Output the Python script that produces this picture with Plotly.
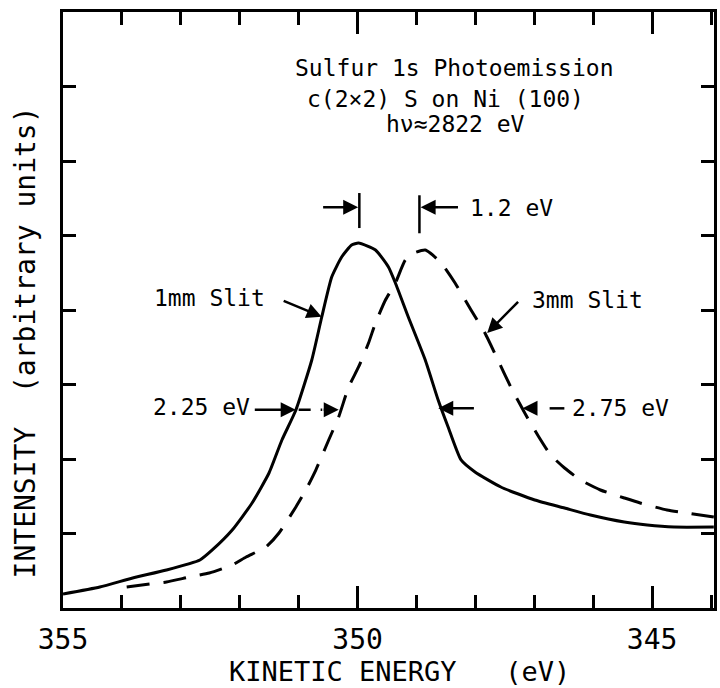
import plotly.graph_objects as go

# ---- data ----
slit1_energy = [355.0, 354.375, 353.818, 353.243, 352.676, 352.466, 352.128, 351.791, 351.503, 351.284,
                351.047, 350.777, 350.608, 350.439, 350.270, 350.101, 349.983, 349.696, 349.476, 349.358,
                349.139, 348.851, 348.632, 348.463, 348.243, 348.007, 347.568, 346.993, 346.486, 346.047,
                345.473, 345.084, 344.628, 343.953]
slit1_intensity = [0.188, 0.282, 0.403, 0.510, 0.644, 0.779, 1.047, 1.409, 1.812, 2.255,
                   2.658, 3.329, 3.906, 4.443, 4.711, 4.872, 4.899, 4.805, 4.577, 4.362,
                   3.906, 3.329, 2.792, 2.430, 1.987, 1.826, 1.624, 1.450, 1.342, 1.248,
                   1.154, 1.114, 1.087, 1.087]

slit3_energy = [353.919, 353.530, 353.243, 352.855, 352.517, 352.128, 351.892, 351.554, 351.334, 351.047,
                350.878, 350.709, 350.490, 350.321, 350.152, 349.983, 349.814, 349.696, 349.527, 349.358,
                349.189, 349.020, 348.851, 348.767, 348.581, 348.345, 348.074, 347.838, 347.618, 347.399,
                347.162, 346.943, 346.723, 346.486, 346.216, 345.878, 345.473, 345.203, 344.747, 344.409,
                343.953]
slit3_intensity = [0.282, 0.322, 0.349, 0.416, 0.470, 0.577, 0.685, 0.819, 1.007, 1.356,
                   1.584, 1.852, 2.255, 2.564, 2.966, 3.235, 3.557, 3.826, 4.134, 4.362,
                   4.671, 4.772, 4.805, 4.765, 4.631, 4.362, 4.000, 3.691, 3.329, 2.966,
                   2.617, 2.322, 2.054, 1.879, 1.718, 1.584, 1.477, 1.409, 1.315, 1.275,
                   1.221]

x_tick_vals = [355, 350, 345]
x_tick_text = ["355", "350", "345"]

FONT = "DejaVu Sans Mono"
BLACK = "black"

fig = go.Figure()
fig.add_trace(go.Scatter(x=slit1_energy, y=slit1_intensity, mode="lines",
                         line=dict(color=BLACK, width=3, shape="spline", smoothing=0.5),
                         showlegend=False, hoverinfo="skip"))
fig.add_trace(go.Scatter(x=slit3_energy, y=slit3_intensity, mode="lines",
                         line=dict(color=BLACK, width=3, dash="23px,14px", shape="spline", smoothing=0.5),
                         showlegend=False, hoverinfo="skip"))

# peak separation markers
for xv, y0, y1 in [(349.97, 5.10, 5.57), (348.95, 5.03, 5.54)]:
    fig.add_shape(type="line", x0=xv, x1=xv, y0=y0, y1=y1, xref="x", yref="y",
                  line=dict(color=BLACK, width=2.5))

def arrow(x, y, ax, ay):
    fig.add_annotation(x=x, y=y, ax=ax, ay=ay, xref="x", yref="y", axref="x", ayref="y",
                       text="", showarrow=True, arrowhead=2, arrowsize=1.2, arrowwidth=2.5,
                       arrowcolor=BLACK)

arrow(349.99, 5.38, 350.61, 5.38)
arrow(348.93, 5.38, 348.27, 5.38)
# slit label arrows
arrow(350.61, 3.91, 351.28, 4.13)
arrow(347.80, 3.69, 347.25, 4.13)
# FWHM arrows (left: 1mm / 3mm leading edges)
arrow(351.05, 2.66, 351.77, 2.66)
arrow(350.32, 2.66, 350.60, 2.66)
fig.add_shape(type="line", x0=351.0, x1=350.60, y0=2.66, y1=2.66, xref="x", yref="y",
              line=dict(color=BLACK, width=2.5, dash="12px,10px"))
# FWHM arrows (right: trailing edges)
arrow(348.63, 2.68, 348.0, 2.68)
arrow(347.20, 2.68, 346.94, 2.68)
fig.add_shape(type="line", x0=346.74, x1=346.49, y0=2.68, y1=2.68, xref="x", yref="y",
              line=dict(color=BLACK, width=2.5))

def label(x, y, text, anchor="left", size=23):
    fig.add_annotation(x=x, y=y, xref="x", yref="y", text=text, showarrow=False,
                       xanchor=anchor, yanchor="middle",
                       font=dict(family=FONT, size=size, color=BLACK))

label(348.36, 7.25, "Sulfur 1s Photoemission", "center")
label(348.51, 6.83, "c(2×2) S on Ni (100)", "center")
label(348.33, 6.50, "hν≈2822 eV", "center")
label(348.12, 5.37, "1.2 eV")
label(351.54, 4.16, "1mm Slit", "right")
label(347.08, 4.13, "3mm Slit")
label(351.79, 2.70, "2.25 eV", "right")
label(346.39, 2.68, "2.75 eV")

# axis titles
fig.add_annotation(x=-0.058, y=0.446, xref="paper", yref="paper", text="INTENSITY  (arbitrary units)",
                   textangle=-90, showarrow=False, xanchor="center", yanchor="middle",
                   font=dict(family=FONT, size=28, color=BLACK))
fig.add_annotation(x=0.517, y=-0.107, xref="paper", yref="paper", text="KINETIC ENERGY   (eV)",
                   showarrow=False, xanchor="center", yanchor="middle",
                   font=dict(family=FONT, size=27, color=BLACK))

fig.update_layout(
    width=720, height=688,
    margin=dict(l=63, r=3, t=12, b=80),
    paper_bgcolor="white", plot_bgcolor="white",
    font=dict(family=FONT, color=BLACK),
    xaxis=dict(range=[355, 343.95], tickvals=x_tick_vals, ticktext=x_tick_text,
               ticks="inside", ticklen=22, tickwidth=2.5, tickcolor=BLACK,
               minor=dict(dtick=1, ticks="inside", ticklen=13, tickwidth=2.5, tickcolor=BLACK),
               showline=True, linecolor=BLACK, linewidth=3, mirror="ticks",
               showgrid=False, zeroline=False, ticklabelstandoff=4,
               tickfont=dict(family=FONT, size=28, color=BLACK)),
    yaxis=dict(range=[0, 8], dtick=1, showticklabels=False,
               ticks="inside", ticklen=13, tickwidth=2.5, tickcolor=BLACK,
               showline=True, linecolor=BLACK, linewidth=3, mirror="ticks",
               showgrid=False, zeroline=False),
)

fig.write_html("out.html")
